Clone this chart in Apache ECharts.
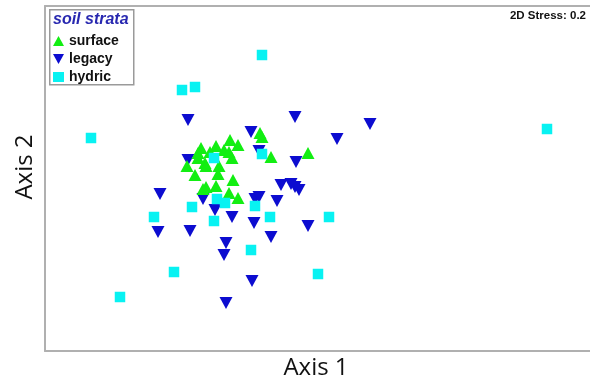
<!DOCTYPE html>
<html>
<head>
<meta charset="utf-8">
<script src="https://cdn.jsdelivr.net/npm/echarts@6/dist/echarts.min.js"></script>
<style>
  html, body { margin: 0; padding: 0; background: #fff; }
  #chart { width: 590px; height: 383px; }
</style>
</head>
<body>
<div id="chart"></div>
<script>
// NMDS ordination scores (Axis 1, Axis 2) per sample, grouped by soil stratum
const strata = ['surface', 'legacy', 'hydric'];

const surface = [
  [0.20, 0.67], [0.22, 0.63], [-0.10, 0.60], [-0.02, 0.55], [-0.24, 0.54],
  [-0.39, 0.52], [-0.16, 0.50], [-0.11, 0.48], [-0.30, 0.48], [-0.42, 0.47],
  [-0.08, 0.42], [-0.42, 0.42], [-0.35, 0.37], [-0.53, 0.34], [-0.34, 0.34],
  [-0.21, 0.34], [-0.45, 0.25], [-0.22, 0.26], [-0.07, 0.20], [-0.24, 0.14],
  [-0.34, 0.13], [-0.37, 0.11], [-0.11, 0.07], [-0.02, 0.02], [0.31, 0.43],
  [0.68, 0.47]
];

const legacy = [
  [-0.52, 0.80], [0.55, 0.83], [1.30, 0.76], [0.11, 0.68], [0.97, 0.61],
  [-0.52, 0.40], [0.19, 0.49], [0.56, 0.38], [-0.80, 0.06], [0.41, 0.15],
  [0.51, 0.16], [0.55, 0.13], [0.59, 0.10], [-0.37, 0.01], [0.15, 0.01],
  [0.19, 0.03], [0.37, -0.01], [-0.25, -0.10], [-0.08, -0.17], [0.14, -0.23],
  [-0.82, -0.32], [-0.50, -0.31], [0.68, -0.26], [0.31, -0.37], [-0.14, -0.43],
  [-0.16, -0.55], [0.12, -0.81], [-0.14, -1.03]
];

const hydric = [
  [0.22, 1.45], [-0.58, 1.10], [-0.45, 1.13], [-1.49, 0.62], [3.07, 0.71],
  [-0.26, 0.42], [0.22, 0.46], [-0.23, 0.01], [-0.15, -0.03], [-0.48, -0.07],
  [-0.86, -0.17], [-0.26, -0.21], [0.15, -0.06], [0.30, -0.17], [0.89, -0.17],
  [0.11, -0.50], [-0.66, -0.72], [0.78, -0.74], [-1.20, -0.97]
];

const stressLabel = '2D Stress: 0.2';
const legendTitle = 'soil strata';
const axisTitles = ['Axis 1', 'Axis 2'];

const colors = { surface: '#12ee12', legacy: '#0c0cd0', hydric: '#08f2f2' };
const downTriangle = 'path://M0,0L10,0L5,9Z';
const frameLine = { show: true, onZero: false, lineStyle: { color: '#b0b0b0', width: 2 } };
const bareAxis = {
  type: 'value', axisLine: frameLine, axisTick: { show: false },
  axisLabel: { show: false }, splitLine: { show: false }
};

const chart = echarts.init(document.getElementById('chart'), null, { renderer: 'canvas' });

chart.setOption({
  animation: false,
  backgroundColor: '#ffffff',
  grid: { left: 45, right: 0, top: 6, bottom: 32 },
  // bottom and top frame edges; the right edge runs past the canvas
  xAxis: [
    Object.assign({}, bareAxis, { min: -1.95, max: 3.50, position: 'bottom' }),
    Object.assign({}, bareAxis, { min: -1.95, max: 3.50, position: 'top' })
  ],
  yAxis: Object.assign({}, bareAxis, { min: -1.51, max: 1.94, position: 'left' }),
  legend: {
    orient: 'vertical', left: 53, top: 34, padding: 0,
    itemWidth: 11, itemHeight: 10, itemGap: 4,
    textStyle: { fontFamily: 'Liberation Sans, Arial, sans-serif', fontWeight: 'bold',
                 fontSize: 14, color: '#111', lineHeight: 14 },
    data: [
      { name: strata[0], icon: 'triangle' },
      { name: strata[1], icon: downTriangle },
      { name: strata[2], icon: 'rect' }
    ]
  },
  graphic: [
    { type: 'rect', left: 49, top: 9, z: 1,
      shape: { width: 84, height: 75 },
      style: { fill: '#fff', stroke: '#9a9a9a', lineWidth: 1.5 } },
    { type: 'text', left: 53, top: 12, z: 2,
      style: { text: legendTitle, fill: '#2828b0',
               font: 'italic bold 16px "Liberation Sans", Arial, sans-serif' } },
    { type: 'text', right: 4, top: 10, z: 2,
      style: { text: stressLabel, fill: '#111',
               font: 'bold 11.5px "Liberation Sans", Arial, sans-serif' } },
    { type: 'text', x: 316, y: 368, z: 2,
      style: { text: axisTitles[0], fill: '#111', align: 'center', verticalAlign: 'middle',
               font: '24px "Open Sans", sans-serif' } },
    { type: 'text', x: 25, y: 167, rotation: Math.PI / 2, z: 2,
      style: { text: axisTitles[1], fill: '#111', align: 'center', verticalAlign: 'middle',
               font: '24px "Open Sans", sans-serif' } }
  ],
  series: [
    { name: strata[1], type: 'scatter', data: legacy, z: 3,
      symbol: 'triangle', symbolRotate: 180, symbolSize: [13, 12],
      itemStyle: { color: colors.legacy, opacity: 1 } },
    { name: strata[0], type: 'scatter', data: surface, z: 4,
      symbol: 'triangle', symbolSize: [13, 12],
      itemStyle: { color: colors.surface, opacity: 1 } },
    { name: strata[2], type: 'scatter', data: hydric, z: 5,
      symbol: 'rect', symbolSize: 10.5,
      itemStyle: { color: colors.hydric, opacity: 1 } }
  ]
});
</script>
</body>
</html>
